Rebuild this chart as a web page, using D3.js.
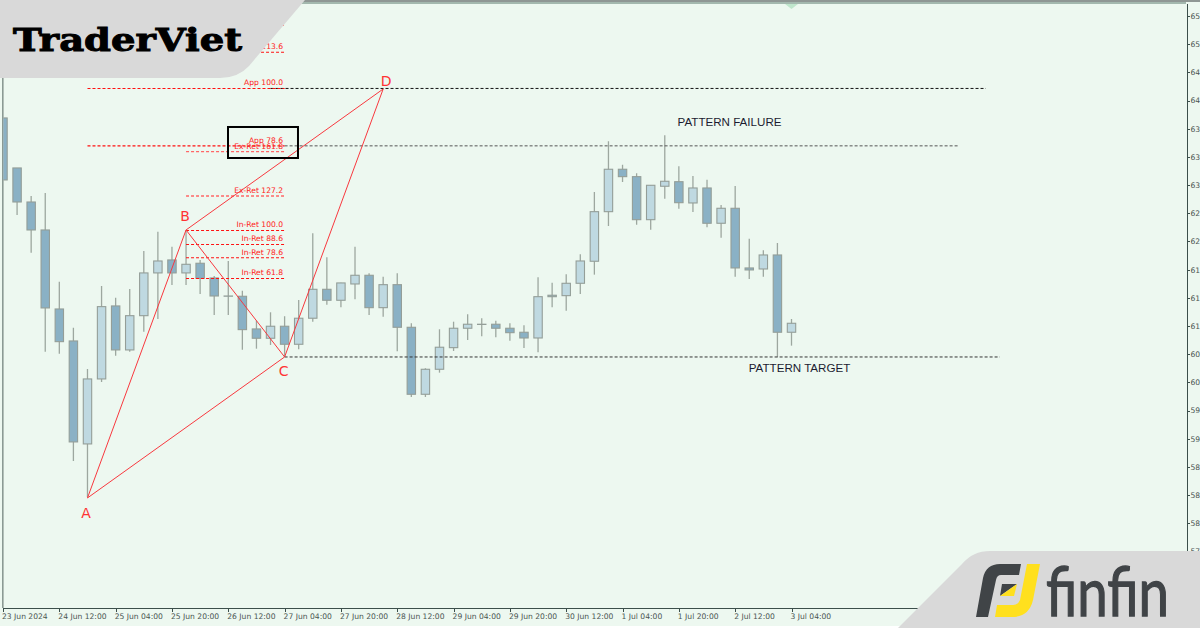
<!DOCTYPE html>
<html>
<head>
<meta charset="utf-8">
<script src="https://cdn.jsdelivr.net/npm/d3@7"></script>
<style>
  html, body { margin: 0; padding: 0; background: #fff; overflow: hidden; }
  svg { display: block; }
  .axis text { font-family: "DejaVu Sans", sans-serif; font-size: 7.6px; fill: #4a5450; }
  .axis path, .axis line { stroke: #3c4f4b; shape-rendering: crispEdges; }
  .lvl { font-family: "DejaVu Sans", sans-serif; font-size: 7.6px; fill: #f22; text-anchor: end; }
  .pt { font-family: "DejaVu Sans", sans-serif; font-size: 14px; fill: #f33; text-anchor: middle; }
  .note { font-family: "Liberation Sans", sans-serif; font-size: 11.6px; fill: #1c1c30; text-anchor: middle; }
</style>
</head>
<body>
<div id="chart"></div>
<script>
var width = 1200, height = 628;

// 4h candles, one entry per bar
var opens = [64044,63320,62827,62422,61278,60815,59324,60265,61322,60685,61181,61800,61988,61800,61940,61727,61466,61462,60989,60854,61028,60767,61144,61563,61404,61640,61766,61297,61630,61013,60043,60405,60718,60999,61057,61057,60999,60941,60858,61477,61471,61650,61969,62687,63301,63194,62571,63055,63121,62813,63030,62519,62736,61872,61857,62060,60941];
var closes = [63146,62827,62422,61293,60805,59353,60265,61312,60685,61181,61800,61973,61800,61925,61723,61466,61463,60979,60854,61028,60767,61144,61563,61404,61655,61766,61297,61630,61013,60043,60405,60724,60999,61057,61054,60999,60935,60858,61456,61456,61650,61973,62687,63301,63194,62571,63069,63127,62817,63030,62519,62736,61872,61843,62060,60941,61071];
var highs = [64044,63320,62914,62958,61674,61008,60410,61611,61442,61568,62118,62397,62180,62422,61988,61756,61973,61543,61109,61230,61173,61409,62374,62027,61659,62180,61795,61746,61795,61071,60420,60984,61094,61202,61144,61109,61071,61042,61737,61659,61781,62070,62972,63706,63368,63243,63069,63793,63344,63204,63150,62784,63059,62296,62128,62234,61133];
var lows = [63146,62639,62093,60660,60631,59078,58556,60221,60602,60660,60950,61133,61626,61626,61495,61191,61191,60689,60703,60757,60583,60695,61094,61340,61303,61419,61191,61167,60666,60004,60004,60356,60670,60830,60883,60869,60819,60714,60651,61303,61254,61495,61775,62480,63117,62499,62426,62875,62730,62683,62461,62311,61746,61713,61746,60579,60747];

var priceTicks = [65520,65112,64704,64296,63888,63480,63072,62664,62256,61848,61440,61032,60624,60216,59808,59400,58992,58584,58176,57768];
var timeBars = [0,4,8,12,16,20,24,28,32,36,40,44,48,52,56];
var timeLabels = ["23 Jun 2024","24 Jun 12:00","25 Jun 04:00","25 Jun 20:00","26 Jun 12:00","27 Jun 04:00","27 Jun 20:00","28 Jun 12:00","29 Jun 04:00","29 Jun 20:00","30 Jun 12:00","1 Jul 04:00","1 Jul 20:00","2 Jul 12:00","3 Jul 04:00"];

// ABCD swing points
var swingNames = ["A","B","C","D"];
var swingBars = [6,13,20,27];
var swingPrices = [58542,62422,60583,64463];

// fib levels on the left of the pattern
var levelNames = ["","113.6","App 100.0","App 78.6","Ex-Ret 161.8","Ex-Ret 127.2","In-Ret 100.0","In-Ret 88.6","In-Ret 78.6","In-Ret 61.8"];
var levelPrices = [65390,64995,64471,63640,63556,62914,62415,62212,62019,61720];
var levelStart = [13,13,6,6,13,13,13,13,13,13];
var levelEnd = 20;

// dotted lines running out to the right
var guidePrices = [64471,63640,60583];
var guideStart = [19,20,20];
var guideEnd = [69.8,67.8,70.8];

var noteTexts = ["PATTERN FAILURE","PATTERN TARGET"];
var noteBars = [51.6,56.57];
var notePrices = [63928,60366];

// box round the App 78.6 label
var boxBars = [15.98,20.95];
var boxPrices = [63913,63464];

var barX = d3.scaleLinear().domain([0, 56]).range([3, 791.5]);
var y = d3.scaleLinear().domain([65520, 57768]).range([16, 551.4]);

var svg = d3.select("#chart").append("svg")
    .attr("width", width)
    .attr("height", height);

// background
svg.append("rect").attr("width", width).attr("height", height).attr("fill", "#edf8f0");
svg.append("rect").attr("y", 626).attr("width", width).attr("height", 2).attr("fill", "#fff");
svg.append("rect").attr("width", width).attr("height", 2).attr("fill", "#8f9794");
svg.append("rect").attr("y", 2).attr("width", 1186).attr("height", 2).attr("fill", "#a3b8ae");
svg.append("rect").attr("x", 2).attr("width", 1.6).attr("height", 608).attr("fill", "#8b9a94");

// small shift marker at the top
svg.append("path")
    .attr("d", d3.line()([[785, 4], [798, 4], [791.5, 9]]))
    .attr("fill", "#bfe6cc");

svg.append("defs").append("clipPath").attr("id", "plot")
  .append("rect").attr("x", 3.5).attr("y", 4).attr("width", 1182).attr("height", 604);

var plot = svg.append("g").attr("clip-path", "url(#plot)");

var bars = d3.range(opens.length);

plot.selectAll(".wick").data(bars).enter().append("line")
    .attr("class", "wick")
    .attr("x1", function(i) { return barX(i); })
    .attr("x2", function(i) { return barX(i); })
    .attr("y1", function(i) { return y(highs[i]); })
    .attr("y2", function(i) { return y(lows[i]); })
    .attr("stroke", "#9da79f")
    .attr("stroke-width", 1.3);

plot.selectAll(".body").data(bars).enter().append("rect")
    .attr("class", "body")
    .attr("x", function(i) { return barX(i) - 4.2; })
    .attr("width", 8.4)
    .attr("y", function(i) { return y(Math.max(opens[i], closes[i])); })
    .attr("height", function(i) { return Math.abs(y(opens[i]) - y(closes[i])); })
    .attr("fill", function(i) { return closes[i] < opens[i] ? "#8ab1c5" : "#bfd9e1"; })
    .attr("stroke", "#949e98")
    .attr("stroke-width", 1.1);

// horizontal dotted lines
var guideColors = ["#111", "#555", "#333"];
guidePrices.forEach(function(p, i) {
  plot.append("line")
      .attr("x1", barX(guideStart[i]))
      .attr("x2", barX(guideEnd[i]))
      .attr("y1", y(p))
      .attr("y2", y(p))
      .attr("stroke", guideColors[i])
      .attr("stroke-width", 1)
      .attr("stroke-dasharray", "3,2");
});

// fib levels
levelPrices.forEach(function(p, i) {
  var isEx = levelNames[i].indexOf("Ex-Ret") === 0;
  plot.append("line")
      .attr("x1", barX(levelStart[i]))
      .attr("x2", barX(levelEnd))
      .attr("y1", y(p))
      .attr("y2", y(p))
      .attr("stroke", isEx ? "#f66" : "#f11")
      .attr("stroke-width", isEx ? 1.4 : 1.1)
      .attr("stroke-dasharray", "3,2");
  plot.append("text")
      .attr("class", "lvl")
      .attr("x", barX(levelEnd) - 1.5)
      .attr("y", y(p) - 3)
      .text(levelNames[i]);
});

// pattern lines
var zigzag = d3.line()
    .x(function(d) { return barX(swingBars[d]); })
    .y(function(d) { return y(swingPrices[d]); });
[[0, 1, 2, 3], [0, 2], [1, 3]].forEach(function(p) {
  plot.append("path")
      .attr("d", zigzag(p))
      .attr("fill", "none")
      .attr("stroke", "#f8383e")
      .attr("stroke-width", 1);
});

var swingDx = [-1.5, -1, -1, 3], swingDy = [20, -9, 19, -3];
swingNames.forEach(function(n, i) {
  plot.append("text")
      .attr("class", "pt")
      .attr("x", barX(swingBars[i]) + swingDx[i])
      .attr("y", y(swingPrices[i]) + swingDy[i])
      .text(n);
});

noteTexts.forEach(function(t, i) {
  plot.append("text")
      .attr("class", "note")
      .attr("x", barX(noteBars[i]))
      .attr("y", y(notePrices[i]))
      .text(t);
});

// highlighted label box
svg.append("rect")
    .attr("x", barX(boxBars[0])).attr("y", y(boxPrices[0]))
    .attr("width", barX(boxBars[1]) - barX(boxBars[0]))
    .attr("height", y(boxPrices[1]) - y(boxPrices[0]))
    .attr("fill", "none")
    .attr("stroke", "#000")
    .attr("stroke-width", 2);

// axes
var yAxis = d3.axisRight(y).tickValues(priceTicks).tickSize(3).tickPadding(1)
    .tickFormat(d3.format(".2f"));
svg.append("g").attr("class", "axis")
    .attr("transform", "translate(1186.5,0)")
    .call(yAxis)
    .call(function(g) { g.select(".domain").attr("d", "M0.5,4V628"); });

var xAxis = d3.axisBottom(barX).tickValues(timeBars).tickSize(4).tickPadding(2)
    .tickFormat(function(d, i) { return timeLabels[i]; });
svg.append("g").attr("class", "axis")
    .attr("transform", "translate(0,608)")
    .call(xAxis)
    .call(function(g) {
      g.select(".domain").attr("d", "M3,0.5H1186");
      g.selectAll("text").attr("text-anchor", "start").attr("dx", "-1.5");
    });

// TraderViet banner
svg.append("path")
    .attr("d", "M0,0H305L249,66Q238,78 220,78H0Z")
    .attr("fill", "#d9d9d9");
svg.append("text")
    .attr("x", 13).attr("y", 51)
    .attr("font-family", "'DejaVu Serif', serif")
    .attr("font-weight", 900)
    .attr("font-size", 32)
    .attr("textLength", 229)
    .attr("lengthAdjust", "spacingAndGlyphs")
    .attr("stroke", "#000").attr("stroke-width", 1)
    .text("TraderViet");

// finfin banner
svg.append("path")
    .attr("d", "M898,628L962,564Q973,551 990,551H1200V628Z")
    .attr("fill", "#d9d9d9");
svg.append("path")
    .attr("d", "M976,617L983,578Q986,564 1000,564H1021L1019,575H1001Q997,575 996,580L988,617Z")
    .attr("fill", "#404447");
svg.append("path")
    .attr("d", "M1002,584H1017L1000,596Z")
    .attr("fill", "#404447");
svg.append("path")
    .attr("d", "M1017,584L1014,596H1000Z")
    .attr("fill", "#ffe01e");
svg.append("path")
    .attr("d", "M1027,564H1040L1033,600Q1029,617 1012,617H995L997,605H1013Q1018,605 1020,600Z")
    .attr("fill", "#ffe01e");
svg.append("text")
    .attr("x", 1046).attr("y", 616)
    .attr("font-family", "Lato, sans-serif")
    .attr("font-size", 68)
    .attr("textLength", 123)
    .attr("lengthAdjust", "spacingAndGlyphs")
    .attr("fill", "#404447")
    .attr("stroke", "#404447").attr("stroke-width", 1.3)
    .text("finfin");
</script>
</body>
</html>
